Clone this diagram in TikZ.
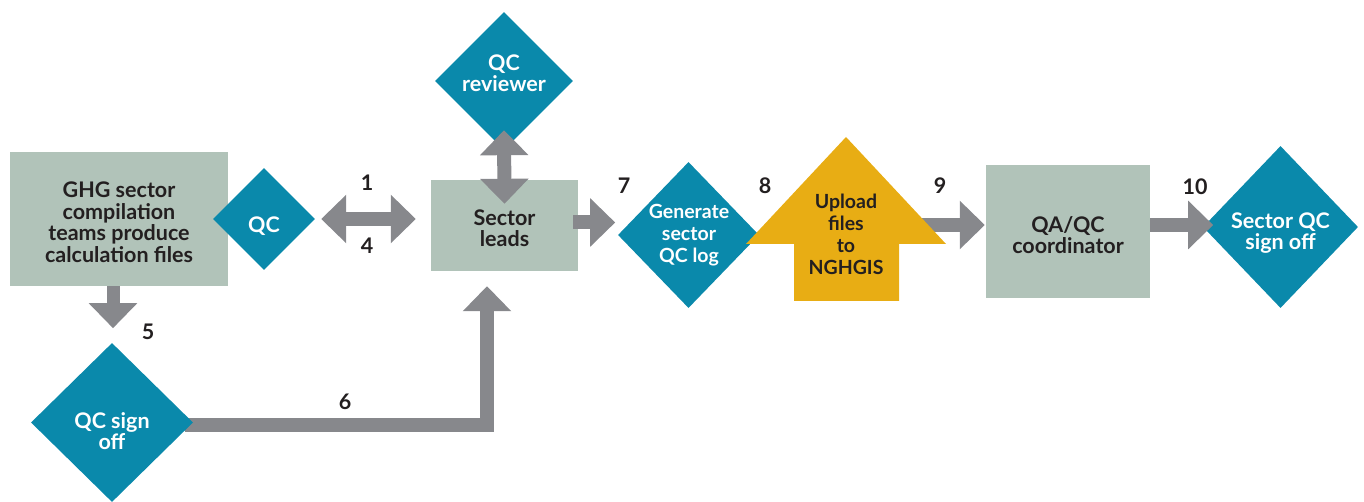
\documentclass[tikz,border=0pt]{standalone}
\usepackage{fontspec}
\setmainfont{Lato}
\usetikzlibrary{shapes.geometric,arrows.meta}
\definecolor{cTeal}{HTML}{0A89AB}
\definecolor{cBox}{HTML}{B1C3B9}
\definecolor{cArrow}{HTML}{87888C}
\definecolor{cGold}{HTML}{E8AD14}
\definecolor{cText}{HTML}{231F20}
\newcommand\txtf{\fontsize{21.5}{21.5}\selectfont\bfseries}
\newcommand\smtxtf{\fontsize{19.5}{22}\selectfont\bfseries}
\tikzset{
  boxnode/.style={fill=cBox, draw=none, inner sep=0pt, text=cText, font=\txtf, align=center},
  dianode/.style={diamond, fill=cTeal, draw=none, inner sep=0pt},
  dtext/.style={text=white, font=\txtf, align=center, inner sep=0pt},
  utext/.style={text=cText, font=\txtf, align=center, inner sep=0pt},
  numlabel/.style={text=cText, font=\txtf, inner sep=0pt},
  blk/.style={draw=cArrow, line width=14pt, line join=miter},
  tipA/.tip={Triangle[width=47pt,length=25pt]}
}
\begin{document}
\begin{tikzpicture}[x=1pt,y=-1pt]
\useasboundingbox (0,0) rectangle (1364,502);
% boxes
\node[boxnode, minimum width=218pt, minimum height=134pt] (ghg) at (119,219) {};
\node[utext] (ghgt) at (119,222) {GHG sector\\compilation\\teams produce\\calculation files};
\node[boxnode, minimum width=147pt, minimum height=91pt] (leads) at (504.5,225.5) {};
\node[utext] (leadst) at (504.5,228) {Sector\\leads};
\node[boxnode, minimum width=164pt, minimum height=133pt] (qa) at (1068,231.5) {};
\node[utext] (qat) at (1068,235) {QA/QC\\coordinator};
% diamonds
\node[dianode, minimum width=102pt, minimum height=102pt] (qc) at (264,219) {};
\node[dtext] (qct) at (264,226) {QC};
\node[dianode, minimum width=138pt, minimum height=138pt] (rev) at (504,81) {};
\node[dtext] (revt) at (504,73) {QC\\reviewer};
\node[dianode, minimum width=141pt, minimum height=146pt] (gen) at (688.5,235) {};
\node[dtext, font=\smtxtf] (gent) at (689,235) {Generate\\sector\\QC log};
\node[dianode, minimum width=155pt, minimum height=162pt] (sqc) at (1280.5,227) {};
\node[dtext] (sqct) at (1280.5,233) {Sector QC\\sign off};
% arrow 6 (behind QC sign off)
\coordinate (signE) at (193,422.5);
\draw[blk,-tipA] ([xshift=-8pt,yshift=-2.5pt]signE) -| ([xshift=-17.5pt,yshift=-15pt]leads.south);
\node[dianode, minimum width=162pt, minimum height=159pt] (sign) at (112,422.5) {};
\node[dtext] (signt) at (112,431) {QC sign\\off};
% arrow 9 (behind upload shape)
\coordinate (upR) at (899,225);
\draw[blk,-tipA] (upR) -- ([xshift=-1pt]qa.west |- upR);
% upload shape
\fill[cGold] (846,137) -- (946,244) -- (899,244) -- (899,301) -- (794,301) -- (794,244) -- (746,244) -- cycle;
\node[utext, font=\smtxtf] (upload) at (846,234) {Upload\\files\\to\\NGHGIS};
% other arrows
\draw[blk,tipA-tipA] ([xshift=6pt]qc.east) -- ([xshift=-15pt]leads.west |- qc.east);
\draw[blk,line width=13pt,-tipA] ([xshift=-6pt]ghg.south) -- ++(0,42);
\draw[blk,tipA-tipA] ([yshift=20pt]rev.south) -- ([yshift=-24pt]leads.north);
\draw[blk,-tipA] ([xshift=-5pt,yshift=3pt]leads.east) -- ++(42,0);
\draw[blk,-tipA] ([yshift=6.5pt]qa.east) -- ++(63,0);
% numbers
\node[numlabel] (n1) at (367,183) {1};
\node[numlabel] (n4) at (367,246) {4};
\node[numlabel] (n5) at (148,332) {5};
\node[numlabel] (n6) at (345,402) {6};
\node[numlabel] (n7) at (624,186) {7};
\node[numlabel] (n8) at (765,186) {8};
\node[numlabel] (n9) at (940,186) {9};
\node[numlabel] (n10) at (1195,187) {10};
\end{tikzpicture}
\end{document}
